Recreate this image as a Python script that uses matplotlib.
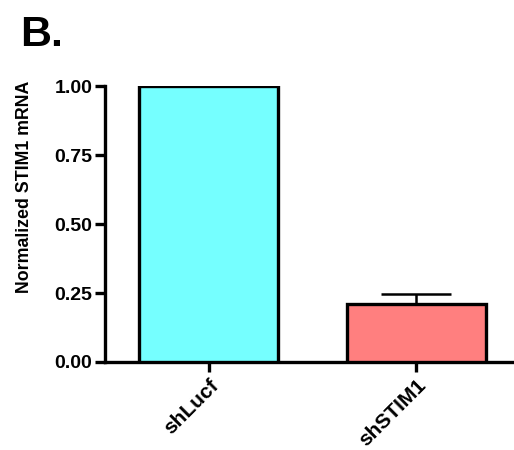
import matplotlib.pyplot as plt
import matplotlib.transforms as mtransforms

plt.rcParams['font.family'] = ['Liberation Sans', 'DejaVu Sans']
plt.rcParams['font.weight'] = 'bold'

groups = ["shLucf", "shSTIM1"]
values = [1.0, 0.21]
errors = [0.0, 0.035]
colors = ["#75FFFF", "#FF7F7F"]

fig = plt.figure(figsize=(5.14, 4.5), dpi=100)
ax = fig.add_axes([0.204, 0.1956, 0.796, 0.613])

x = list(range(len(groups)))
ax.bar(x, values, width=0.67, color=colors, edgecolor="black", linewidth=2.4, zorder=3)
ax.errorbar(x[1:], values[1:], yerr=[[0], errors[1:]], fmt="none", ecolor="black",
            elinewidth=1.8, capsize=25, capthick=1.8, zorder=2)

ax.set_xlim(-0.5, 1.47)
ax.set_ylim(0, 1.0)
ax.set_yticks([0, 0.25, 0.5, 0.75, 1.0])
ax.set_yticklabels(["0.00", "0.25", "0.50", "0.75", "1.00"])
ax.set_xticks(x)
ax.set_xticklabels(groups, rotation=45, ha="right", rotation_mode="anchor")

# nudge rotated labels a bit to the left
offset = mtransforms.ScaledTranslation(-0.05, 0, fig.dpi_scale_trans)
for label in ax.get_xticklabels():
    label.set_transform(label.get_transform() + offset)

for s in ["top", "right"]:
    ax.spines[s].set_visible(False)
for s in ["left", "bottom"]:
    ax.spines[s].set_linewidth(2.4)
ax.tick_params(axis="both", width=2.4, length=7, labelsize=14, pad=2)
ax.tick_params(axis="x", labelsize=15, pad=3)

ax.set_ylabel("Normalized STIM1 mRNA", fontsize=12.8, fontweight="bold")
ax.yaxis.set_label_coords(-0.175, 0.634)

fig.text(0.039, 0.898, "B.", fontsize=31, fontweight="bold", va="baseline")

fig.savefig("out.png", dpi=100)
